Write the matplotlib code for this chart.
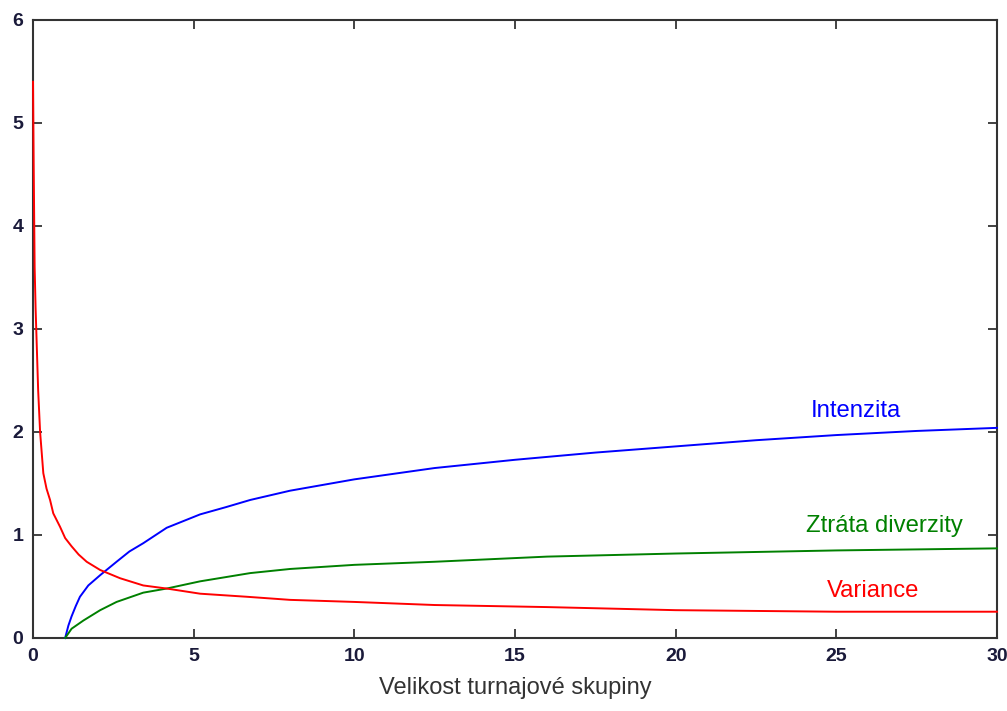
import matplotlib
matplotlib.use('Agg')
import matplotlib.pyplot as plt

plt.rcParams['font.family'] = ['Liberation Sans', 'DejaVu Sans']

# Intenzita (blue)
intenzita_x = [1.0, 1.1, 1.2, 1.33, 1.46, 1.72, 2.09, 2.6, 3.0, 3.43, 4.16, 5.2, 6.0, 6.76, 8.0,
               10, 12.5, 15, 17.5, 20, 22.5, 25, 27.5, 30]
intenzita_y = [0.0, 0.12, 0.21, 0.31, 0.40, 0.51, 0.61, 0.74, 0.84, 0.92, 1.07, 1.20, 1.27, 1.34, 1.43,
               1.54, 1.65, 1.73, 1.80, 1.86, 1.92, 1.97, 2.01, 2.04]

# Ztrata diverzity (green)
ztrata_x = [1.0, 1.2, 1.57, 2.09, 2.6, 3.43, 4.16, 5.2, 6.76, 8.0, 10, 12.5, 16, 20, 25, 30]
ztrata_y = [0.0, 0.09, 0.17, 0.27, 0.35, 0.44, 0.48, 0.55, 0.63, 0.67, 0.71, 0.74, 0.79,
            0.82, 0.85, 0.87]

# Variance (red)
variance_x = [0.0, 0.02, 0.05, 0.08, 0.11, 0.16, 0.22, 0.32, 0.42, 0.53, 0.63, 0.84, 1.0, 1.2,
              1.42, 1.67, 2.09, 2.71, 3.43, 4.16, 5.2, 6.66, 8.0, 10, 12.5, 16, 20, 25, 30]
variance_y = [5.4, 4.6, 3.6, 3.2, 2.9, 2.4, 2.0, 1.6, 1.45, 1.34, 1.21, 1.08, 0.97, 0.89,
              0.81, 0.74, 0.66, 0.58, 0.51, 0.48, 0.43, 0.40, 0.37, 0.35, 0.32, 0.30, 0.27, 0.255, 0.255]

x_ticks = [0, 5, 10, 15, 20, 25, 30]
y_ticks = [0, 1, 2, 3, 4, 5, 6]

fig = plt.figure(figsize=(10.07, 7.11), dpi=100)
ax = fig.add_axes([0.0328, 0.1027, 0.9572, 0.8692])

ax.plot(intenzita_x, intenzita_y, color='#0000ff', lw=1.4, zorder=3, clip_on=False)
ax.plot(ztrata_x, ztrata_y, color='#008000', lw=1.4, zorder=3, clip_on=False)
ax.plot(variance_x, variance_y, color='#ff0000', lw=1.4, zorder=3, clip_on=False)

ax.text(24.2, 2.2, 'Intenzita', color='#0000ff', fontsize=17.2, va='center')
ax.text(24.05, 1.09, 'Ztráta diverzity', color='#008000', fontsize=17.2, va='center')
ax.text(24.7, 0.46, 'Variance', color='#ff0000', fontsize=17.2, va='center')

ax.set_xlim(0, 30)
ax.set_ylim(0, 6)
ax.set_xticks(x_ticks)
ax.set_yticks(y_ticks)
ax.tick_params(direction='in', length=6.5, width=1.2, top=True, right=True,
               labelsize=14, pad=7, colors='#222222')
for lbl in ax.get_xticklabels() + ax.get_yticklabels():
    lbl.set_fontweight('bold')
    lbl.set_color('#1a1a3a')
for sp in ax.spines.values():
    sp.set_linewidth(1.5)
    sp.set_color('#333333')

ax.set_xlabel('Velikost turnajové skupiny', fontsize=17, labelpad=9, color='#333333')

fig.savefig('out.png', dpi=100)
